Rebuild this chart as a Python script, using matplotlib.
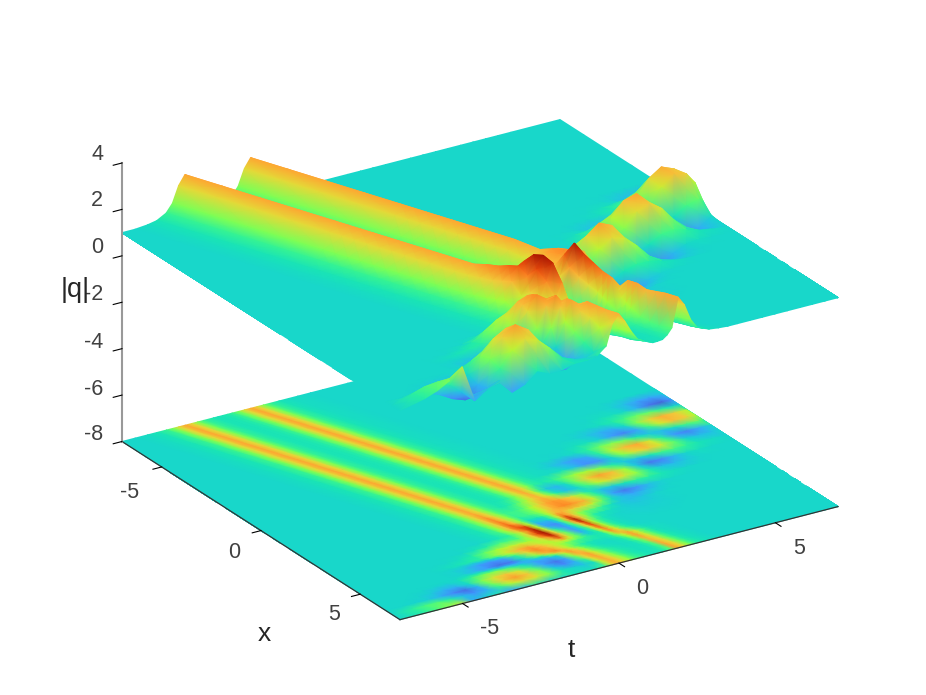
import numpy as np
import matplotlib
matplotlib.use('Agg')
import matplotlib.pyplot as plt
from mpl_toolkits.mplot3d import proj3d

plt.rcParams['font.family'] = ['Liberation Sans', 'DejaVu Sans']
plt.rcParams['axes.unicode_minus'] = False

# columns run along the two long ridges: t = t_col + ridge_slope * x
ridge_slope = 0.37
t_cols = [-9.6, -8.8, -8.4, -8, -7.6, -7.2, -6.8, -6.4, -6, -5.6, -5.2, -4.8, -4.4, -4,
          -3.6, -3.3, -3, -2.8, -2.6, -2.4, -2.2, -2, -1.8, -1.5, -1.35, -1.2, -1.05, -0.9,
          -0.7, -0.5, -0.3, -0.1, 0.1, 0.3, 0.6, 0.9, 1.2, 1.6, 2, 2.4, 2.8, 3.2, 3.6, 4,
          4.4, 4.8, 5.2, 5.6, 6, 6.4, 6.8, 7.2, 7.6, 8, 9.6]
flat_rows = [-7, -5.8, -4.6, -3.4, -2.2]

# |q| on the two ridges far from the collision, starting at column 14
ridge_start = 14
ridge_values = [1.05, 1.13, 1.35, 1.7, 2.4, 2.8, 2.4, 1.7, 1.35, 1.15, 1.13, 1.15, 1.22, 1.35,
                1.7, 2.4, 2.8, 2.4, 1.7, 1.35, 1.13, 1.05, 1.02]

# values: (x, first column, |q| ...), background 1 elsewhere
read_rows = [
    (-1.8, 48, [0.93, 0.79, 0.61, 0.57, 0.72, 0.89]),
    (-1.4, 46, [1.04, 1.06, 0.99, 0.7, 0.26, 0.13, 0.42, 0.76]),
    (-1.0, 45, [1.07, 1.2, 1.41, 1.61, 1.59, 1.29, 1.01, 0.93, 0.98]),
    (-0.6, 42, [0.97, 0.87, 0.72, 0.69, 1.01, 1.7, 2.39, 2.75, 2.53, 2.01, 1.5, 1.2]),
    (-0.2, 41, [1.07, 1.09, 0.94, 0.56, 0.34, 0.61, 1.4, 2.18, 2.62, 2.48, 2.0, 1.5, 1.2]),
    (0.2, 39, [0.96, 1.04, 1.28, 1.6, 1.75, 1.62, 1.16, 0.88, 0.8, 1.07, 1.42, 1.56, 1.43, 1.23, 1.09]),
    (0.6, 37, [0.9, 0.71, 0.53, 0.67, 1.28, 2.06, 2.64, 2.8, 2.24, 1.3, 0.53, 0.35, 0.63, 0.95, 1.05]),
    (1.0, 37, [1.09, 0.82, 0.45, 0.46, 0.98, 1.73, 2.32, 2.54, 2.19, 1.55, 1.0, 0.78, 0.81, 0.94]),
    (1.4, 32, [1.73, 1.32, 1.18, 1.29, 1.54, 1.85, 1.94, 1.66, 1.22, 0.87, 0.82, 1.08, 1.38, 1.44, 1.3, 1.13, 1.05]),
    (1.8, 29, [2.3, 2.75, 2.08, 1.29, 0.85, 0.72, 1.02, 1.63, 2.45, 2.87, 2.63, 1.86, 0.87, 0.25, 0.38, 0.75, 0.99, 1.05]),
    (2.2, 24, [1.22, 1.32, 1.47, 1.65, 2.03, 2.45, 2.7, 2.28, 1.64, 1.14, 0.8, 0.95, 1.4, 2.04, 2.4, 2.24, 1.78, 1.19, 0.83, 0.76, 0.88, 0.97]),
    (2.6, 16, [1.38, 1.75, 2.45, 2.95, 2.45, 1.75, 1.38, 1.38, 1.48, 1.61, 1.85, 2.14, 2.5, 2.8, 2.9, 2.85, 2.55, 2.35, 1.75, 1.23, 0.87, 0.86, 1.13, 1.29, 1.27, 1.15, 1.05]),
    (3.0, 16, [1.4, 1.8, 2.5, 3.05, 2.55, 1.8, 1.33, 1.43, 1.55, 1.7, 1.98, 2.31, 2.7, 2.9, 3.0, 2.95, 2.85, 2.75, 2.12, 1.31, 0.62, 0.28, 0.47, 0.79, 0.95]),
    (3.3, 16, [1.4, 1.85, 2.6, 3.2, 2.65, 1.75, 1.1, 1.1, 1.25, 1.55, 2.15, 2.7, 2.75, 2.5, 2.45, 2.4, 2.3, 2.05, 1.55, 1.05, 0.8, 0.62, 0.78, 0.92, 1.0]),
    (3.6, 14, [1.05, 1.15, 1.4, 1.9, 2.7, 3.3, 3.45, 2.0, 0.7, 0.75, 1.0, 1.5, 2.4, 3.3, 2.6, 1.9, 1.65, 1.55, 1.5, 1.3, 1.05, 0.85, 0.8, 0.85, 0.95]),
    (3.9, 14, [1.05, 1.15, 1.3, 1.65, 2.2, 3.0, 3.85, 2.0, 0.6, 0.4, 0.8, 1.6, 2.9, 3.9, 2.6, 1.75, 1.3, 1.15, 1.1, 1.05, 0.95, 0.9, 0.88, 0.92, 0.97]),
    (4.2, 12, [1.1, 1.25, 1.5, 1.5, 1.5, 1.8, 2.5, 3.4, 3.95, 2.3, 1.25, 0.55, 0.9, 1.5, 2.6, 3.55, 2.0, 1.4, 1.15, 1.05, 1.0, 0.98, 0.95, 0.93, 0.93, 0.95, 0.98]),
    (4.5, 10, [1.05, 1.2, 1.55, 1.9, 2.1, 2.15, 2.0, 1.95, 2.3, 3.0, 3.75, 2.6, 1.6, 0.5, 0.85, 1.4, 2.4, 3.3, 1.9, 1.3, 1.1, 1.03, 1.0, 1.0, 0.97, 0.96, 0.97, 0.98]),
    (4.8, 8, [1.03, 1.1, 1.2, 1.3, 1.7, 2.2, 2.7, 2.85, 2.45, 2.1, 2.0, 2.4, 3.0, 2.2, 1.6, 0.8, 1.0, 1.3, 2.2, 3.05, 2.0, 1.35, 1.1, 1.02]),
    (4.95, 8, [1.0, 0.97, 0.85, 0.85, 1.15, 1.8, 2.6, 2.95, 2.65, 2.3, 2.05, 2.1, 2.2, 1.85, 1.55, 1.0, 1.08, 1.25, 2.05, 2.98, 2.15, 1.42, 1.12, 1.02]),
    (5.1, 8, [0.95, 0.85, 0.6, 0.45, 0.6, 1.35, 2.4, 3.0, 2.7, 2.3, 2.0, 1.75, 1.6, 1.45, 1.35, 1.2, 1.18, 1.2, 1.9, 2.9, 2.3, 1.5, 1.15, 1.03]),
    (5.4, 8, [0.95, 0.75, 0.5, 0.2, 0.3, 1.0, 1.75, 2.65, 3.0, 2.6, 2.0, 1.55, 1.3, 1.15, 1.1, 1.1, 1.15, 1.3, 1.65, 2.2, 2.85, 2.2, 1.5, 1.15, 1.05, 1.02]),
    (5.55, 8, [1.1, 1.15, 1.05, 0.75, 0.6, 0.75, 1.1, 1.75, 2.55, 2.85, 2.4, 1.75, 1.35, 1.15, 1.07, 1.05, 1.1, 1.2, 1.5, 2.0, 2.85, 2.2, 1.5, 1.15, 1.05, 1.02]),
    (5.7, 5, [0.95, 0.92, 1.05, 1.35, 1.65, 1.75, 1.45, 1.0, 0.6, 0.62, 1.0, 2.0, 2.85, 2.6, 1.9, 1.4, 1.15, 1.05, 1.03, 1.08, 1.15, 1.4, 1.85, 2.85, 2.15, 1.5, 1.15, 1.05, 1.02]),
    (6.0, 3, [0.98, 0.9, 0.7, 0.67, 1.02, 1.67, 2.29, 2.6, 2.23, 1.44, 0.58, 0.23, 0.55, 1.65, 2.5, 2.85, 2.2, 1.6, 1.3, 1.15, 1.05, 1.07, 1.1, 1.3, 1.6, 2.7, 2.3, 1.55, 1.2, 1.08, 1.03]),
    (6.3, 2, [0.97, 0.92, 0.71, 0.4, 0.21, 0.71, 1.65, 2.49, 2.88, 2.53, 1.72, 0.84, 0.41, 0.7, 1.35, 2.35, 2.8, 2.3, 1.7, 1.35, 1.2, 1.08, 1.08, 1.1, 1.25, 1.5, 2.75, 2.35, 1.6, 1.25, 1.1, 1.05]),
    (6.6, 1, [1.28, 1.45, 1.51, 1.27, 0.81, 0.49, 0.7, 1.39, 2.02, 2.38, 2.21, 1.71, 1.17, 0.96, 0.85, 1.05, 2.05, 2.75, 2.4, 1.8, 1.4, 1.2, 1.08, 1.1, 1.12, 1.25, 1.45, 2.8, 2.4, 1.65, 1.28, 1.12, 1.05]),
    (7.0, 0, [1.0, 1.25, 1.45, 1.75, 2.2, 0.6, 0.95, 1.2, 0.55, 0.75, 1.2, 0.95, 0.95, 1.1, 1.1, 1.17, 1.5, 2.4, 2.75, 2.35, 1.85, 1.45, 1.3, 1.12, 1.13, 1.15, 1.3, 1.55, 2.8, 2.4, 1.7, 1.3, 1.18, 1.08, 1.03]),
]

x_ticks = [-5, 0, 5]
t_ticks = [-5, 0, 5]
z_ticks = [-8, -6, -4, -2, 0, 2, 4]

x_rows = np.array(flat_rows + [r[0] for r in read_rows])
cols = np.array(t_cols)
Z = np.ones((len(x_rows), len(cols)))
Z[:, ridge_start:ridge_start + len(ridge_values)] = ridge_values
for i, (x, start, vals) in enumerate(read_rows):
    row = i + len(flat_rows)
    Z[row, start:start + len(vals)] = vals
    Z[row, start + len(vals):] = 1.0

X = np.repeat(x_rows[:, None], len(cols), axis=1)
T = np.clip(cols[None, :] + ridge_slope * X, -7, 7)

fig = plt.figure(figsize=(9.26, 6.95), dpi=100)
ax = fig.add_axes([0.1, 0.1, 0.7, 0.7 * 926 / 695], projection='3d', zorder=2)
ax.patch.set_visible(False)
ax.set_proj_type('ortho')
ax.view_init(elev=24, azim=-32.4)
ax.set_box_aspect((519, 519, 305))
ax.set_xlim(-7, 7)
ax.set_ylim(-7, 7)
ax.set_zlim(-8, 4)
ax.set_xticks(x_ticks)
ax.set_yticks(t_ticks)
ax.set_zticks(z_ticks)
ax.set_xticklabels([])
ax.set_yticklabels([])
ax.set_zticklabels([])
ax.grid(False)
for axis in (ax.xaxis, ax.yaxis, ax.zaxis):
    axis.pane.set_visible(False)
    axis._axinfo['tick'].update({'inward_factor': 0.25, 'outward_factor': 0,
                                 'linewidth': {True: 0.8, False: 0.8}, 'color': '#404040'})
    axis.line.set_color('#333333')
    axis.line.set_linewidth(0.9)
ax.zaxis.set_ticks_position('lower')
ax.zaxis.line.set_color('#999999')
ax.zaxis.line.set_linewidth(1.5)


def to_px(x, t, z):
    px, py, _ = proj3d.proj_transform(x, t, z, ax.get_proj())
    return ax.transData.transform(np.column_stack([np.ravel(px), np.ravel(py)]))


# fit the box onto the floor corners seen in the picture
for _ in range(3):
    fig.canvas.draw()
    p1 = to_px(-7, -7, -8)[0]
    p2 = to_px(7, 7, -8)[0]
    scale = (838 - 122) / (p2[0] - p1[0])
    pos = ax.get_position(original=True)
    w, h = pos.width * scale, pos.height * scale
    cx = pos.x0 + pos.width / 2
    cy = pos.y0 + pos.height / 2
    ax.set_position([cx - w / 2, cy - h / 2, w, h])
    fig.canvas.draw()
    p1 = to_px(-7, -7, -8)[0]
    pos = ax.get_position(original=True)
    ax.set_position([pos.x0 + (122 - p1[0]) / 926, pos.y0 + ((695 - 441.5) - p1[1]) / 695,
                     pos.width, pos.height])
fig.canvas.draw()

# Gouraud mesh on a flat layer under the 3D axes, painted far cells first
layer = fig.add_axes([0, 0, 1, 1], zorder=1)
layer.set_xlim(0, 926)
layer.set_ylim(0, 695)
layer.axis('off')
vmin, vmax = -0.4, 4.2
far_first = Z[:, ::-1]
X_f, T_f = X[:, ::-1], T[:, ::-1]
for height in (np.full_like(far_first, -8.0), far_first):
    pts = to_px(X_f.ravel(), T_f.ravel(), height.ravel())
    px = pts[:, 0].reshape(Z.shape)
    py = pts[:, 1].reshape(Z.shape)
    layer.pcolormesh(px, py, far_first, shading='gouraud', cmap='turbo', vmin=vmin, vmax=vmax)

z_label_y = [435, 389, 342, 295, 247, 201, 154]
for val, y in zip(z_ticks, z_label_y):
    fig.text(103 / 926, 1 - y / 695, str(val), fontsize=15.5, color='#404040', ha='right', va='center')
x_label_xy = [(130, 492), (234, 552), (334, 614)]
for val, (px_, py_) in zip(x_ticks, x_label_xy):
    fig.text(px_ / 926, 1 - py_ / 695, str(val), fontsize=15.5, color='#404040', ha='center', va='center')
t_label_xy = [(490, 629), (642, 588), (799, 549)]
for val, (px_, py_) in zip(t_ticks, t_label_xy):
    fig.text(px_ / 926, 1 - py_ / 695, str(val), fontsize=15.5, color='#404040', ha='center', va='center')

fig.text(75 / 926, 1 - 290 / 695, '|q|', fontsize=19.5, color='#262626', ha='center', va='center')
fig.text(264 / 926, 1 - 634 / 695, 'x', fontsize=19, color='#262626', ha='center', va='center')
fig.text(571 / 926, 1 - 650 / 695, 't', fontsize=19, color='#262626', ha='center', va='center')

fig.savefig('out.png', dpi=100)
